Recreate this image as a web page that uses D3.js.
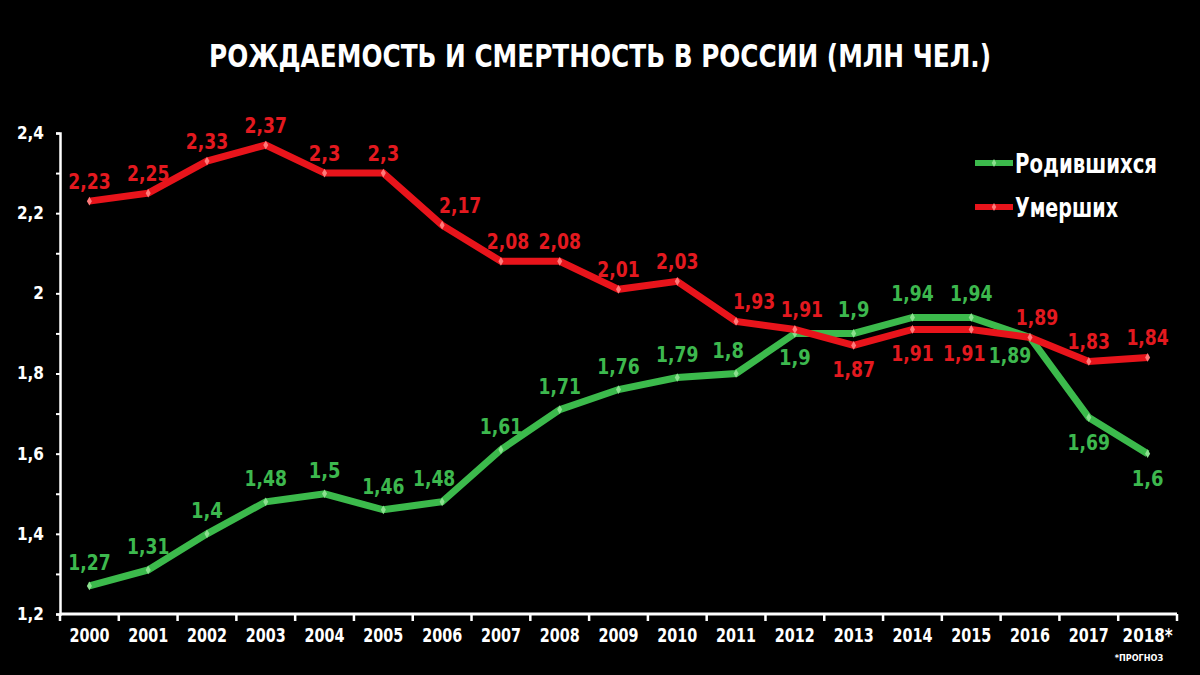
<!DOCTYPE html>
<html>
<head>
<meta charset="utf-8">
<script src="https://cdn.jsdelivr.net/npm/d3@7/dist/d3.min.js"></script>
<style>
  html, body { margin: 0; padding: 0; background: #000; }
  svg { display: block; }
  text { font-family: "Liberation Sans Narrow", "DejaVu Sans Condensed", "Roboto", sans-serif; font-weight: bold; }
</style>
</head>
<body>
<svg id="chart" width="1200" height="675"></svg>
<script>
// ---- data ----
const years = ["2000","2001","2002","2003","2004","2005","2006","2007","2008","2009","2010","2011","2012","2013","2014","2015","2016","2017","2018*"];
const births = [1.27,1.31,1.4,1.48,1.5,1.46,1.48,1.61,1.71,1.76,1.79,1.8,1.9,1.9,1.94,1.94,1.89,1.69,1.6];
const deaths = [2.23,2.25,2.33,2.37,2.3,2.3,2.17,2.08,2.08,2.01,2.03,1.93,1.91,1.87,1.91,1.91,1.89,1.83,1.84];
const yTicks = [1.2,1.4,1.6,1.8,2,2.2,2.4];
const yMinorTicks = [1.3,1.5,1.7,1.9,2.1,2.3];
const seriesNames = ["Родившихся","Умерших"];
const titleText = "РОЖДАЕМОСТЬ И СМЕРТНОСТЬ В РОССИИ (МЛН ЧЕЛ.)";
const footnote = "*ПРОГНОЗ";
// label placement keywords (t = top, b = bottom, r/tr/tl/bl/bw = shifted)
const birthsPlace = ["t","t","t","t","t","t","tl","t","t","t","t","tl","b","t","t","t","bl","b","b"];
const deathsPlace = ["t","t","t","t","t","t","r","tr","t","t","t","r","tr","b","b","bw","tr","t","t"];

// ---- chart ----
const svg = d3.select("#chart");
const W = 1200, H = 675;
const margin = {left: 60, right: 23, top: 133, bottom: 61};
const x = d3.scaleBand().domain(years).range([margin.left, W - margin.right]).padding(0);
const y = d3.scaleLinear().domain([1.2, 2.4]).range([H - margin.bottom, margin.top]);
const fmt = v => String(v).replace(".", ",");
const green = "#3cba4c", red = "#e8141b";
const greenLbl = "#3db84e", redLbl = "#e3191f";

svg.append("rect").attr("width", W).attr("height", H).attr("fill", "#000");

// title
svg.append("text").attr("x", 600).attr("y", 67).attr("text-anchor", "middle")
  .attr("fill", "#fff").attr("font-size", 32)
  .attr("textLength", 782).attr("lengthAdjust", "spacingAndGlyphs")
  .text(titleText);

// y axis
const yAxis = d3.axisLeft(y).tickValues(yTicks).tickSize(4).tickPadding(12).tickFormat(d => fmt(d));
const gy = svg.append("g").attr("transform", `translate(${margin.left},0)`).call(yAxis);
gy.select(".domain").attr("stroke", "#fff").attr("stroke-width", 2.5);
gy.selectAll(".tick line").attr("stroke", "#fff").attr("stroke-width", 2);
gy.selectAll(".tick text").attr("fill", "#fff").attr("font-size", 17).attr("font-family", null);
const yMinor = d3.axisLeft(y).tickValues(yMinorTicks).tickSize(4).tickFormat("");
const gym = svg.append("g").attr("transform", `translate(${margin.left},0)`).call(yMinor);
gym.select(".domain").remove();
gym.selectAll(".tick line").attr("stroke", "#fff").attr("stroke-width", 2);

// x axis
const xAxis = d3.axisBottom(x).tickSize(0).tickPadding(14);
const gx = svg.append("g").attr("transform", `translate(0,${H - margin.bottom})`).call(xAxis);
gx.select(".domain").attr("stroke", "#fff").attr("stroke-width", 3).attr("d", `M${margin.left},0H${W - margin.right}`);
gx.selectAll(".tick text").attr("fill", "#fff").attr("font-size", 20).attr("font-family", null).attr("dy", "0.71em")
  .attr("textLength", d => d.length * 10).attr("lengthAdjust", "spacingAndGlyphs");
// band boundary ticks
const bounds = years.map(d => x(d)).concat([x(years[years.length - 1]) + x.bandwidth()]);
gx.selectAll(".bt").data(bounds).join("line").attr("class", "bt")
  .attr("x1", d => d).attr("x2", d => d).attr("y1", 0).attr("y2", 7)
  .attr("stroke", "#fff").attr("stroke-width", 2.5);

// footnote
svg.append("text").attr("x", 1139).attr("y", 661).attr("text-anchor", "middle")
  .attr("fill", "#fff").attr("font-size", 9).text(footnote);

const cx = d => x(d) + x.bandwidth() / 2;
const line = d3.line().x(d => cx(d.year)).y(d => y(d.v));

function drawSeries(values, color, markerColor, lblColor, place, base) {
  const pts = values.map((v, i) => ({year: years[i], v, place: place[i]}));
  svg.append("path").datum(pts).attr("d", line)
    .attr("fill", "none").attr("stroke", color).attr("stroke-width", 7)
    .attr("stroke-linejoin", "miter");
  svg.append("g").selectAll("path").data(pts).join("path")
    .attr("d", d3.symbol().type(d3.symbolDiamond).size(22))
    .attr("transform", d => `translate(${cx(d.year)},${y(d.v)})`)
    .attr("fill", markerColor);
  const off = {
    t: [0, base], b: [0, 32], r: [18, base], tr: [7, base], tl: [-8, base],
    bl: [-20, 26], bw: [-7, 32]
  };
  svg.append("g").selectAll("text").data(pts).join("text")
    .attr("x", d => cx(d.year) + off[d.place][0])
    .attr("y", d => y(d.v) + off[d.place][1])
    .attr("text-anchor", "middle").attr("fill", lblColor)
    .attr("font-size", 22)
    .attr("textLength", d => fmt(d.v).length * 10.6)
    .attr("lengthAdjust", "spacingAndGlyphs")
    .text(d => fmt(d.v));
}
drawSeries(births, green, "#8be08f", greenLbl, birthsPlace, -16);
drawSeries(deaths, red, "#ff7a7a", redLbl, deathsPlace, -12);

// legend
const legend = svg.append("g");
[[green, "#8be08f", 163], [red, "#ff7a7a", 207]].forEach((c, i) => {
  legend.append("line").attr("x1", 975).attr("x2", 1013).attr("y1", c[2]).attr("y2", c[2])
    .attr("stroke", c[0]).attr("stroke-width", 6);
  legend.append("path").attr("d", d3.symbol().type(d3.symbolDiamond).size(18))
    .attr("transform", `translate(994,${c[2]})`).attr("fill", c[1]);
  legend.append("text").attr("x", 1015).attr("y", c[2] + 10).attr("fill", "#fff")
    .attr("font-size", 26)
    .attr("textLength", i === 0 ? 142 : 103).attr("lengthAdjust", "spacingAndGlyphs")
    .text(seriesNames[i]);
});
</script>
</body>
</html>
